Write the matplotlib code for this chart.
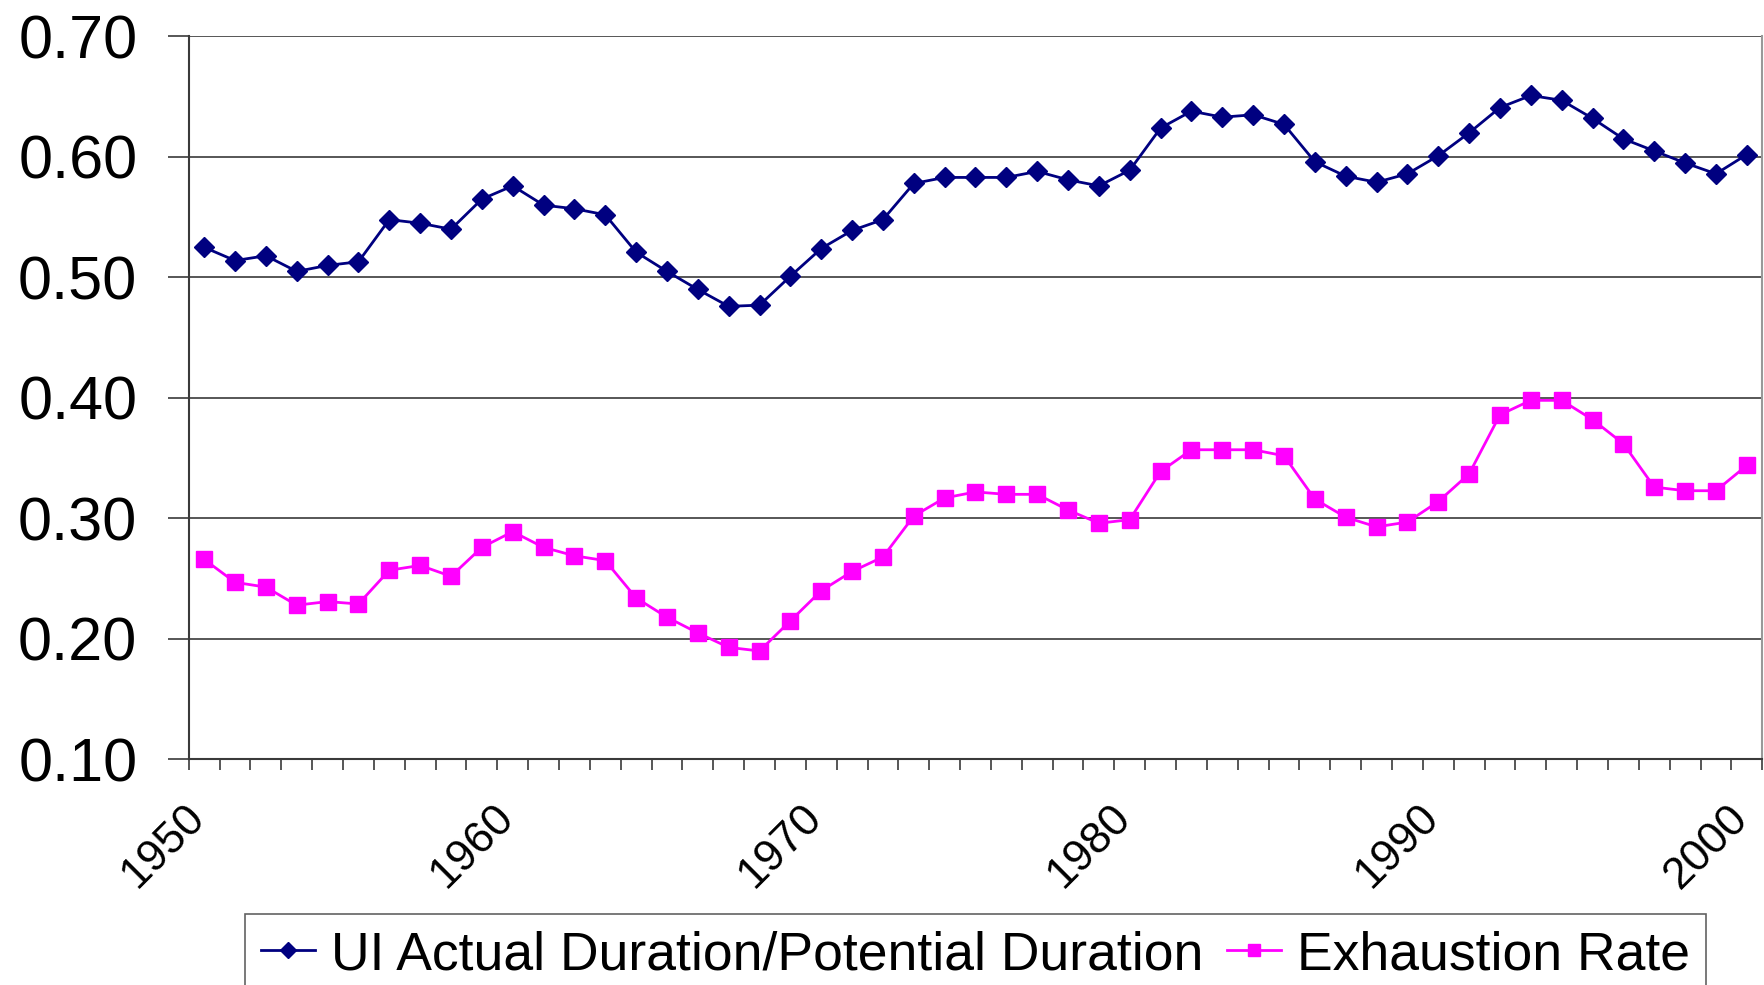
import matplotlib
matplotlib.use('Agg')
import matplotlib.pyplot as plt
import matplotlib.transforms as mtransforms
import numpy as np

plt.rcParams['font.family'] = ['Liberation Sans', 'DejaVu Sans']

years = list(range(1950, 2001))
ui_ratio = [0.525, 0.514, 0.518, 0.505, 0.510, 0.513, 0.548, 0.545, 0.540, 0.565,
            0.576, 0.560, 0.557, 0.552, 0.521, 0.505, 0.490, 0.476, 0.477, 0.501,
            0.524, 0.539, 0.548, 0.578, 0.583, 0.583, 0.583, 0.588, 0.581, 0.576,
            0.589, 0.624, 0.638, 0.633, 0.635, 0.627, 0.596, 0.584, 0.579, 0.586,
            0.601, 0.620, 0.641, 0.651, 0.647, 0.632, 0.615, 0.605, 0.595, 0.586,
            0.602]
exhaustion = [0.266, 0.247, 0.243, 0.228, 0.231, 0.229, 0.257, 0.261, 0.252, 0.276,
              0.289, 0.276, 0.269, 0.265, 0.234, 0.218, 0.205, 0.193, 0.190, 0.215,
              0.240, 0.256, 0.268, 0.302, 0.317, 0.322, 0.320, 0.320, 0.307, 0.296,
              0.299, 0.339, 0.357, 0.357, 0.357, 0.352, 0.316, 0.301, 0.293, 0.297,
              0.314, 0.337, 0.386, 0.398, 0.398, 0.382, 0.362, 0.326, 0.323, 0.323,
              0.344]
yticks = [0.10, 0.20, 0.30, 0.40, 0.50, 0.60, 0.70]

fig = plt.figure(figsize=(17.64, 9.85), dpi=100)
ax = fig.add_axes([0.107, 0.229, 0.892, 0.734])

x = np.arange(len(years))
ax.plot(x, ui_ratio, color='#000080', lw=2, marker='D', ms=10.5,
        label='UI Actual Duration/Potential Duration')
ax.plot(x, exhaustion, color='#FF00FF', lw=2, marker='s', ms=11,
        label='Exhaustion Rate')

ax.set_xlim(-0.5, len(years) - 0.5)
ax.set_ylim(0.10, 0.70)
ax.set_yticks(yticks)
ax.set_yticklabels(['%.2f' % v for v in yticks])
ax.yaxis.grid(True, color='#3a3a3a', lw=1.2)
ax.set_axisbelow(True)
ax.tick_params(axis='y', length=15, width=1.2, color='#3a3a3a', pad=22, labelsize=44)

lab_pos = [i for i, yr in enumerate(years) if yr % 10 == 0]
ax.set_xticks(lab_pos)
ax.set_xticklabels([str(years[i]) for i in lab_pos], rotation=45, ha='right',
                   rotation_mode='anchor')
ax.set_xticks(np.arange(-0.5, len(years)), minor=True)
ax.tick_params(axis='x', which='major', length=0, pad=27, labelsize=32)
ax.tick_params(axis='x', which='minor', length=8, width=1.2, color='#3a3a3a')
# shift the rotated year labels a little to the left, like the original
shift = mtransforms.ScaledTranslation(-20 / 100, 0, fig.dpi_scale_trans)
for lbl in ax.get_xticklabels():
    lbl.set_transform(lbl.get_transform() + shift)

ax.spines['top'].set_visible(False)
ax.spines['right'].set_color('#999999')
ax.spines['left'].set_color('#3a3a3a')
ax.spines['bottom'].set_color('#3a3a3a')
for s in ['left', 'bottom', 'right']:
    ax.spines[s].set_linewidth(1.5)

leg = fig.legend(loc='upper center', bbox_to_anchor=(0.553, 0.072), ncol=2,
                 fontsize=38.5, frameon=True, fancybox=False, edgecolor='#3a3a3a',
                 handlelength=1.0, handletextpad=0.3, columnspacing=0.45,
                 borderpad=0.3, borderaxespad=0, markerscale=0.8)
leg.get_frame().set_linewidth(1.2)

fig.savefig('out.png', dpi=100)
